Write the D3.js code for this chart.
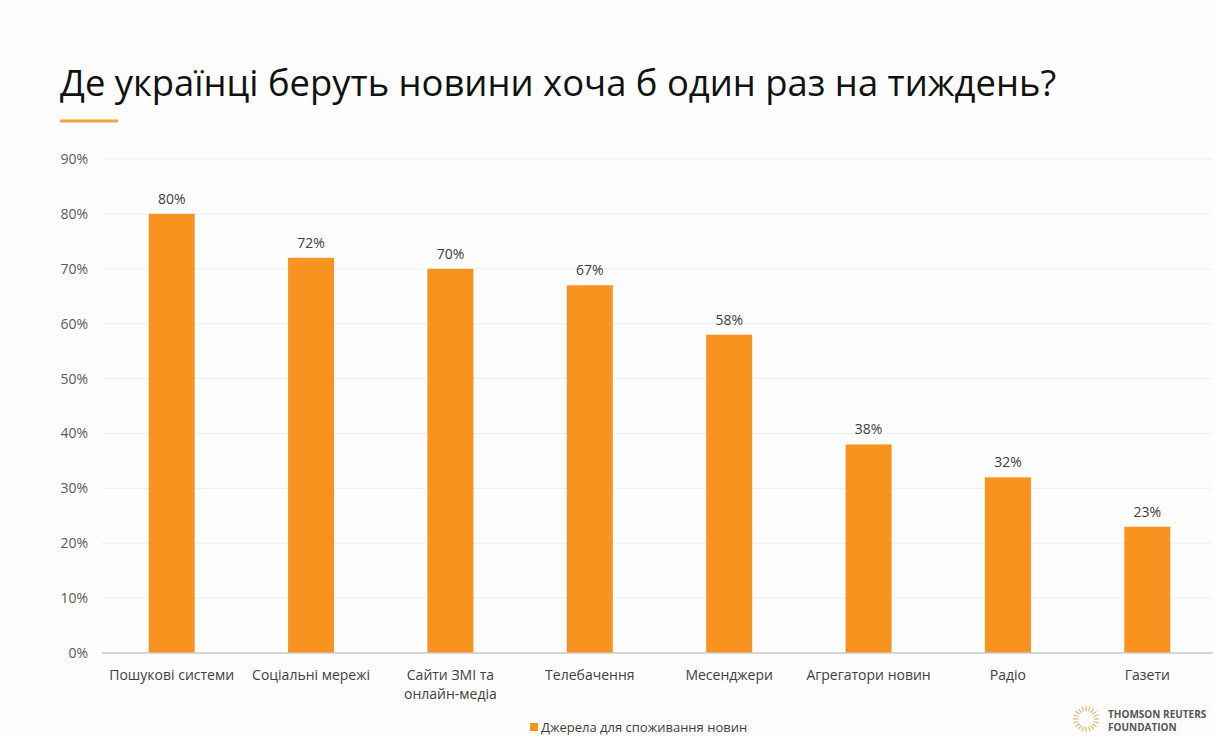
<!DOCTYPE html>
<html>
<head>
<meta charset="utf-8">
<script src="https://cdn.jsdelivr.net/npm/d3@7"></script>
<style>
  body { margin: 0; background: #fdfdfd; }
  svg { display: block; font-family: "Open Sans", "Noto Sans", sans-serif; }
</style>
</head>
<body>
<svg id="chart"></svg>
<script>
const width = 1213;
const height = 738;

// data
const categories = ["Пошукові системи", "Соціальні мережі", "Сайти ЗМІ та|онлайн-медіа", "Телебачення",
  "Месенджери", "Агрегатори новин", "Радіо", "Газети"];
const values = [80, 72, 70, 67, 58, 38, 32, 23];
const yTicks = [0, 10, 20, 30, 40, 50, 60, 70, 80, 90];
const seriesName = "Джерела для споживання новин";
const title = "Де українці беруть новини хоча б один раз на тиждень?";

const barColor = "#f7931e";

const svg = d3.select("#chart")
    .attr("width", width)
    .attr("height", height);

svg.append("rect").attr("width", width).attr("height", height).attr("fill", "#fdfdfd");

// title + accent line
svg.append("text")
    .attr("x", 60)
    .attr("y", 96)
    .attr("font-size", 36.4)
    .attr("fill", "#111")
    .text(title);

svg.append("line")
    .attr("x1", 60).attr("x2", 118)
    .attr("y1", 121).attr("y2", 121)
    .attr("stroke", "#f4a340")
    .attr("stroke-width", 3);

const x = d3.scaleBand()
    .domain(categories)
    .range([102, 1217])
    .paddingInner(0.67)
    .paddingOuter(0.335);

const y = d3.scaleLinear()
    .domain([0, 90])
    .range([653, 159]);

// gridlines
svg.append("g")
    .selectAll("line")
    .data(yTicks.filter(d => d > 0))
    .enter()
    .append("line")
    .attr("x1", 102).attr("x2", 1213)
    .attr("y1", d => y(d)).attr("y2", d => y(d))
    .attr("stroke", "#efefef")
    .attr("stroke-width", 1);

// y labels
svg.append("g")
    .selectAll("text")
    .data(yTicks)
    .enter()
    .append("text")
    .attr("x", 88)
    .attr("y", d => y(d) + 5)
    .attr("text-anchor", "end")
    .attr("font-size", 14)
    .attr("fill", "#5a5a5a")
    .text(d => d + "%");

// bars
svg.append("g")
    .selectAll("rect")
    .data(values)
    .enter()
    .append("rect")
    .attr("x", (d, i) => x(categories[i]))
    .attr("y", d => y(d))
    .attr("width", x.bandwidth())
    .attr("height", d => y(0) - y(d))
    .attr("fill", barColor);

// value labels
svg.append("g")
    .selectAll("text")
    .data(values)
    .enter()
    .append("text")
    .attr("x", (d, i) => x(categories[i]) + x.bandwidth() / 2)
    .attr("y", d => y(d) - 10)
    .attr("text-anchor", "middle")
    .attr("font-size", 14)
    .attr("fill", "#404040")
    .text(d => d + "%");

// zero axis
svg.append("line")
    .attr("x1", 102).attr("x2", 1213)
    .attr("y1", y(0)).attr("y2", y(0))
    .attr("stroke", "#c8c8c8")
    .attr("stroke-width", 1.5);

// category labels
const cat = svg.append("g")
    .selectAll("text")
    .data(categories)
    .enter()
    .append("text")
    .attr("x", d => x(d) + x.bandwidth() / 2)
    .attr("y", 680)
    .attr("text-anchor", "middle")
    .attr("font-size", 14)
    .attr("fill", "#404040");

cat.selectAll("tspan")
    .data(d => d.split("|"))
    .enter()
    .append("tspan")
    .attr("x", function () { return d3.select(this.parentNode).attr("x"); })
    .attr("dy", (d, i) => i === 0 ? 0 : 19)
    .text(d => d);

// legend
svg.append("rect")
    .attr("x", 530).attr("y", 723)
    .attr("width", 8).attr("height", 8)
    .attr("fill", barColor);

svg.append("text")
    .attr("x", 541)
    .attr("y", 732)
    .attr("font-size", 13)
    .attr("fill", "#404040")
    .text(seriesName);

// logo (Thomson Reuters Foundation)
const logo = svg.append("g").attr("transform", "translate(1086,719)");
d3.range(0, 360, 18).forEach(a => {
    const r = a * Math.PI / 180;
    logo.append("line")
        .attr("x1", Math.cos(r) * 8).attr("y1", Math.sin(r) * 8)
        .attr("x2", Math.cos(r) * 13).attr("y2", Math.sin(r) * 13)
        .attr("stroke", "#e7a44f")
        .attr("stroke-width", 1.2)
        .attr("opacity", 0.8);
});
svg.append("text")
    .attr("x", 1108).attr("y", 718)
    .attr("font-size", 10)
    .attr("font-weight", "bold")
    .attr("fill", "#555")
    .text("THOMSON REUTERS");
svg.append("text")
    .attr("x", 1108).attr("y", 731)
    .attr("font-size", 10)
    .attr("font-weight", "bold")
    .attr("fill", "#555")
    .text("FOUNDATION");
</script>
</body>
</html>
